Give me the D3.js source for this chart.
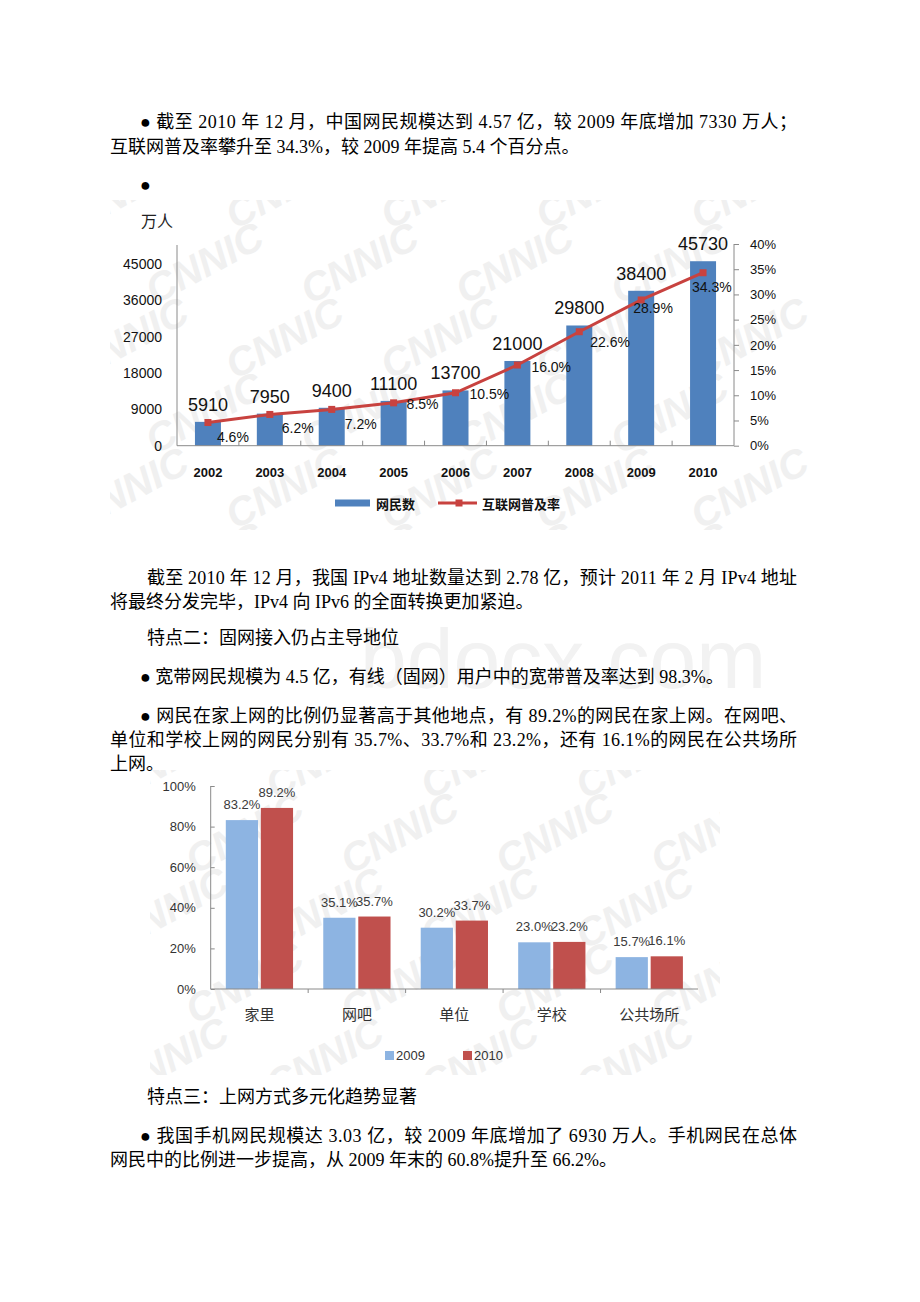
<!DOCTYPE html>
<html>
<head>
<meta charset="utf-8">
<script src="https://cdn.jsdelivr.net/npm/d3@7"></script>
<style>
  html, body { margin: 0; padding: 0; background: #fff; }
  svg { display: block; }
</style>
</head>
<body>
<svg id="page" width="920" height="1302"></svg>
<script>
// ---------- Chart 1 data ----------
const years = ['2002','2003','2004','2005','2006','2007','2008','2009','2010'];
const netizens = [5910, 7950, 9400, 11100, 13700, 21000, 29800, 38400, 45730];
const penetration = [4.6, 6.2, 7.2, 8.5, 10.5, 16.0, 22.6, 28.9, 34.3];
const leftTicks = [0, 9000, 18000, 27000, 36000, 45000];
const rightTicks = [0, 5, 10, 15, 20, 25, 30, 35, 40];
const legend1 = ['网民数', '互联网普及率'];
const unitLabel = '万人';

// ---------- Chart 2 data ----------
const locations = ['家里', '网吧', '单位', '学校', '公共场所'];
const share2009 = [83.2, 35.1, 30.2, 23.0, 15.7];
const share2010 = [89.2, 35.7, 33.7, 23.2, 16.1];
const shareTicks = [0, 20, 40, 60, 80, 100];
const seriesNames = ['2009', '2010'];

// label nudges for penetration labels (layout only)
const pctLabelNudge = [[9,19],[12,19],[13,20],[13,6],[14,6],[14,7],[11,15],[-8,13],[-11,19]];

// ---------- Document text ----------
const FONT_DOC = '"Liberation Serif", "Noto Sans CJK SC", serif';
const FONT_CH = '"Liberation Sans", Arial, "Noto Sans CJK SC", sans-serif';
const docLines = [
  {t: '● 截至 2010 年 12 月，中国网民规模达到 4.57 亿，较 2009 年底增加 7330 万人；', x: 140, y: 128, w: 657},
  {t: '互联网普及率攀升至 34.3%，较 2009 年提高 5.4 个百分点。', x: 110, y: 153},
  {t: '●', x: 140, y: 191},
  {t: '截至 2010 年 12 月，我国 IPv4 地址数量达到 2.78 亿，预计 2011 年 2 月 IPv4 地址', x: 147, y: 584, w: 650},
  {t: '将最终分发完毕，IPv4 向 IPv6 的全面转换更加紧迫。', x: 110, y: 608},
  {t: '特点二：固网接入仍占主导地位', x: 147, y: 644},
  {t: '● 宽带网民规模为 4.5 亿，有线（固网）用户中的宽带普及率达到 98.3%。', x: 140, y: 683},
  {t: '● 网民在家上网的比例仍显著高于其他地点，有 89.2%的网民在家上网。在网吧、', x: 140, y: 722, w: 657},
  {t: '单位和学校上网的网民分别有 35.7%、33.7%和 23.2%，还有 16.1%的网民在公共场所', x: 110, y: 746, w: 687},
  {t: '上网。', x: 110, y: 770},
  {t: '特点三：上网方式多元化趋势显著', x: 147, y: 1103},
  {t: '● 我国手机网民规模达 3.03 亿，较 2009 年底增加了 6930 万人。手机网民在总体', x: 140, y: 1142, w: 657},
  {t: '网民中的比例进一步提高，从 2009 年末的 60.8%提升至 66.2%。', x: 110, y: 1166}
];

const svg = d3.select('#page');

// ---------- faint CNNIC watermarks (decoration) ----------
function watermark(id, x0, y0, w, h) {
  svg.append('clipPath').attr('id', id).append('rect')
    .attr('x', x0).attr('y', y0).attr('width', w).attr('height', h);
  const g = svg.append('g').attr('clip-path', `url(#${id})`);
  for (let r = 0; r * 75 < h + 60; r++) {
    for (let c = 0; c * 155 < w + 100; c++) {
      const x = x0 - 30 + c * 155 + (r % 2) * 75;
      const y = y0 + 30 + r * 75;
      if (x > 760) continue;
      g.append('text').attr('x', x).attr('y', y)
        .attr('transform', `rotate(-28 ${x} ${y})`)
        .attr('font-family', FONT_CH).attr('font-size', 40)
        .attr('font-weight', 'bold').attr('font-style', 'italic')
        .attr('fill', '#f0f0f0').text('CNNIC');
    }
  }
}
watermark('wm1', 110, 200, 700, 330);
watermark('wm2', 150, 770, 570, 305);

// bdocx watermark
svg.append('text').attr('x', 360).attr('y', 688)
  .attr('font-family', FONT_CH).attr('font-size', 84)
  .attr('fill', '#f2f2f2').text('bdocx.com');

// ---------- document text ----------
docLines.forEach(d => {
  const t = svg.append('text').attr('x', d.x).attr('y', d.y)
    .attr('font-family', FONT_DOC).attr('font-size', 18).attr('fill', '#000')
    .text(d.t);
  if (d.w) t.attr('textLength', d.w).attr('lengthAdjust', 'spacing');
});

// ---------- Chart 1 ----------
(function () {
  const left = 177, right = 734, top = 244, bottom = 445.7;
  const x = d3.scaleBand().domain(years).range([left, right]).paddingInner(0.58).paddingOuter(0.29);
  const yL = d3.scaleLinear().domain([0, 50000]).range([bottom, top]);
  const yR = d3.scaleLinear().domain([0, 40]).range([bottom, top]);
  const g = svg.append('g');
  const blue = '#4f81bd', red = '#c8423f', axisCol = '#8a8a8a';

  g.append('text').attr('x', 141).attr('y', 227).attr('font-family', FONT_CH)
    .attr('font-size', 16).attr('fill', '#222').text(unitLabel);

  // bars
  g.selectAll('rect.bar').data(netizens).join('rect').attr('class', 'bar')
    .attr('x', (d, i) => x(years[i])).attr('width', x.bandwidth())
    .attr('y', d => yL(d)).attr('height', d => bottom - yL(d)).attr('fill', blue);

  // bar labels
  g.selectAll('text.bl').data(netizens).join('text').attr('class', 'bl')
    .attr('x', (d, i) => x(years[i]) + x.bandwidth() / 2).attr('y', d => yL(d) - 11)
    .attr('text-anchor', 'middle').attr('font-family', FONT_CH).attr('font-size', 18)
    .attr('fill', '#111').text(d => d);

  // left axis
  const axL = g.append('g').attr('transform', `translate(${left},0)`)
    .call(d3.axisLeft(yL).tickValues(leftTicks).tickSize(0).tickPadding(15).tickFormat(d3.format('d')));
  axL.select('.domain').attr('stroke', axisCol).attr('d', `M0,${top + 1}V${bottom}`);
  axL.selectAll('text').attr('font-family', FONT_CH).attr('font-size', 14).attr('fill', '#111');

  // right axis
  const axR = g.append('g').attr('transform', `translate(${right},0)`)
    .call(d3.axisRight(yR).tickValues(rightTicks).tickSize(5).tickPadding(11).tickFormat(d => d + '%'));
  axR.select('.domain').attr('stroke', axisCol).attr('d', `M0,${top}V${bottom}`);
  axR.selectAll('line').attr('stroke', axisCol);
  axR.selectAll('text').attr('font-family', FONT_CH).attr('font-size', 13).attr('fill', '#111');

  // x axis
  const axX = g.append('g').attr('transform', `translate(0,${bottom})`)
    .call(d3.axisBottom(x).tickSize(0).tickPadding(22));
  axX.select('.domain').attr('stroke', axisCol).attr('d', `M${left},0H${right}`);
  axX.selectAll('text').attr('font-family', FONT_CH).attr('font-size', 13)
    .attr('font-weight', 'bold').attr('fill', '#111');
  // inner category ticks
  g.selectAll('line.ct').data(years.slice(1)).join('line').attr('class', 'ct')
    .attr('x1', d => x(d) - x.step() * x.paddingInner() / 2).attr('x2', d => x(d) - x.step() * x.paddingInner() / 2)
    .attr('y1', bottom).attr('y2', bottom - 5).attr('stroke', axisCol);

  // line
  const cx = i => x(years[i]) + x.bandwidth() / 2;
  const line = d3.line().x((d, i) => cx(i)).y(d => yR(d));
  g.append('path').datum(penetration).attr('d', line).attr('fill', 'none')
    .attr('stroke', red).attr('stroke-width', 3);
  g.selectAll('rect.mk').data(penetration).join('rect').attr('class', 'mk')
    .attr('x', (d, i) => cx(i) - 3.5).attr('y', d => yR(d) - 3.5)
    .attr('width', 7).attr('height', 7).attr('fill', red);
  g.selectAll('text.pl').data(penetration).join('text').attr('class', 'pl')
    .attr('x', (d, i) => cx(i) + pctLabelNudge[i][0]).attr('y', (d, i) => yR(d) + pctLabelNudge[i][1])
    .attr('font-family', FONT_CH).attr('font-size', 14).attr('fill', '#111')
    .text(d => d.toFixed(1) + '%');

  // legend
  const lg = g.append('g');
  lg.append('rect').attr('x', 335).attr('y', 499.5).attr('width', 35).attr('height', 7).attr('fill', blue);
  lg.append('text').attr('x', 376).attr('y', 509).attr('font-family', FONT_CH).attr('font-size', 13)
    .attr('font-weight', 'bold').attr('fill', '#111').text(legend1[0]);
  lg.append('line').attr('x1', 438).attr('x2', 477).attr('y1', 503).attr('y2', 503)
    .attr('stroke', red).attr('stroke-width', 3);
  lg.append('rect').attr('x', 455.5).attr('y', 499.5).attr('width', 7).attr('height', 7).attr('fill', red);
  lg.append('text').attr('x', 482).attr('y', 509).attr('font-family', FONT_CH).attr('font-size', 13)
    .attr('font-weight', 'bold').attr('fill', '#111').text(legend1[1]);
})();

// ---------- Chart 2 ----------
(function () {
  const left = 210.7, right = 698, top = 786, bottom = 989;
  const x0 = d3.scaleBand().domain(locations).range([left, right]).padding(0);
  const x1 = d3.scaleBand().domain(seriesNames).range([15.1, x0.bandwidth() - 15.1]).paddingInner(0.08);
  const y = d3.scaleLinear().domain([0, 100]).range([bottom, top]);
  const colors = {'2009': '#8db4e2', '2010': '#c0504d'};
  const axisCol = '#8a8a8a';
  const g = svg.append('g');

  const rows = locations.map((loc, i) => ({loc, vals: [
    {s: '2009', v: share2009[i]}, {s: '2010', v: share2010[i]}]}));

  const grp = g.selectAll('g.grp').data(rows).join('g').attr('class', 'grp')
    .attr('transform', d => `translate(${x0(d.loc)},0)`);
  grp.selectAll('rect').data(d => d.vals).join('rect')
    .attr('x', d => x1(d.s)).attr('width', x1.bandwidth())
    .attr('y', d => y(d.v)).attr('height', d => bottom - y(d.v)).attr('fill', d => colors[d.s]);
  grp.selectAll('text').data(d => d.vals).join('text')
    .attr('x', d => x1(d.s) + x1.bandwidth() / 2).attr('y', d => y(d.v) - 11)
    .attr('text-anchor', 'middle').attr('font-family', FONT_CH).attr('font-size', 13)
    .attr('fill', '#3a3a3a').text(d => d.v.toFixed(1) + '%');

  // y axis
  const ay = g.append('g').attr('transform', `translate(${left},0)`)
    .call(d3.axisLeft(y).tickValues(shareTicks).tickSize(-4).tickPadding(15).tickFormat(d => d + '%'));
  ay.select('.domain').attr('stroke', axisCol).attr('d', `M0,${top}V${bottom}`);
  ay.selectAll('line').attr('stroke', axisCol);
  ay.selectAll('text').attr('font-family', FONT_CH).attr('font-size', 13).attr('fill', '#333');

  // x axis
  const ax = g.append('g').attr('transform', `translate(0,${bottom})`)
    .call(d3.axisBottom(x0).tickSize(0).tickPadding(20));
  ax.select('.domain').attr('stroke', axisCol).attr('d', `M${left},0H${right}`);
  ax.selectAll('text').attr('font-family', '"Noto Sans CJK SC", sans-serif').attr('font-size', 15).attr('fill', '#333');
  g.selectAll('line.ct').data(locations.slice(1)).join('line').attr('class', 'ct')
    .attr('x1', d => x0(d)).attr('x2', d => x0(d)).attr('y1', bottom).attr('y2', bottom + 4)
    .attr('stroke', axisCol);

  // legend
  const lgItems = [{s: '2009', x: 385}, {s: '2010', x: 463}];
  const lg = g.selectAll('g.lg').data(lgItems).join('g').attr('class', 'lg');
  lg.append('rect').attr('x', d => d.x).attr('y', 1051).attr('width', 9).attr('height', 9)
    .attr('fill', d => colors[d.s]);
  lg.append('text').attr('x', d => d.x + 11).attr('y', 1060).attr('font-family', FONT_CH)
    .attr('font-size', 13).attr('fill', '#333').text(d => d.s);
})();
</script>
</body>
</html>
